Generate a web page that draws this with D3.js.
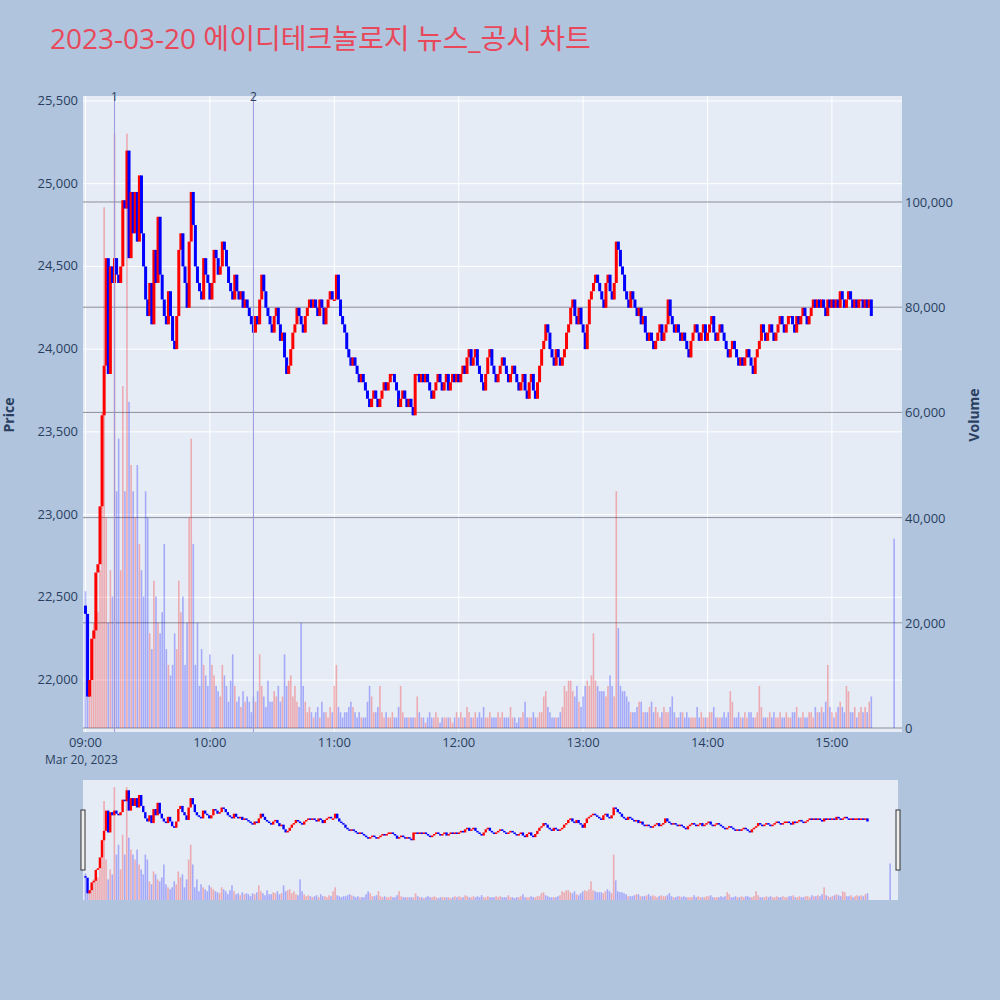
<!DOCTYPE html>
<html>
<head>
<meta charset="utf-8">
<script src="https://cdn.jsdelivr.net/npm/d3@7"></script>
<style>
  body { margin: 0; background: #b0c4de; }
  text { font-family: "Open Sans", "Noto Sans CJK KR", sans-serif; }
</style>
</head>
<body>
<div id="chart"></div>
<script>
// minute closes from 09:00
const closes = [
  22400,21900,22000,22250,22300,22650,22700,23050,23600,23900,
  24550,23850,24500,24400,24550,24450,24400,24500,24900,24850,
  25200,24550,24950,24700,24950,24650,25050,24700,24500,24300,
  24200,24400,24150,24600,24400,24800,24450,24300,24200,24150,
  24350,24200,24050,24000,24200,24600,24700,24500,24400,24250,
  24650,24950,24750,24500,24400,24350,24300,24550,24450,24400,
  24300,24400,24600,24550,24450,24500,24650,24600,24500,24400,
  24350,24300,24450,24350,24300,24350,24250,24300,24250,24200,
  24150,24100,24200,24150,24300,24450,24350,24250,24200,24150,
  24100,24200,24250,24150,24050,24100,23950,23850,23900,24000,
  24100,24150,24250,24200,24150,24100,24200,24250,24300,24250,
  24300,24250,24200,24300,24250,24150,24250,24300,24350,24300,
  24300,24450,24300,24200,24150,24100,24000,23950,23900,23950,
  23900,23850,23800,23850,23800,23750,23700,23650,23700,23750,
  23700,23650,23700,23750,23800,23750,23800,23850,23850,23800,
  23750,23650,23700,23750,23700,23650,23700,23650,23600,23850,
  23850,23800,23850,23800,23850,23800,23750,23700,23750,23800,
  23850,23800,23750,23800,23850,23750,23800,23850,23800,23850,
  23800,23850,23900,23850,23950,24000,23900,23950,24000,23900,
  23850,23800,23750,23850,23950,24000,23900,23850,23800,23850,
  23900,23950,23900,23850,23800,23850,23900,23850,23800,23750,
  23800,23850,23750,23700,23800,23850,23750,23700,23800,23900,
  24000,24050,24150,24100,24000,23950,23900,24000,23950,23900,
  23950,24000,24100,24150,24250,24300,24200,24150,24250,24150,
  24100,24000,24150,24300,24350,24400,24450,24400,24350,24300,
  24250,24400,24450,24350,24300,24400,24650,24600,24500,24450,
  24350,24300,24250,24350,24300,24250,24200,24250,24150,24200,
  24100,24050,24100,24050,24000,24050,24100,24150,24050,24100,
  24150,24300,24200,24150,24100,24150,24100,24050,24100,24050,
  24000,23950,24050,24100,24150,24100,24050,24100,24150,24050,
  24100,24150,24200,24100,24050,24100,24150,24100,24050,24000,
  23950,24000,24050,24000,23950,23900,23950,23900,23950,24000,
  23950,23900,23850,23950,24000,24050,24150,24100,24050,24100,
  24150,24100,24050,24100,24150,24200,24150,24100,24150,24200,
  24200,24150,24100,24200,24150,24200,24250,24200,24150,24200,
  24250,24300,24250,24300,24250,24300,24250,24200,24300,24250,
  24300,24250,24300,24250,24350,24300,24250,24300,24350,24300,
  24250,24300,24250,24300,24300,24250,24300,24250,24300,24200
];
const firstOpen = 22450;
// volume per minute, thousands
const volumes = [
  26,6,9,14,20,25,22,30,60,99, 40,20,30,25,113,45,55,30,65,45,
  113,62,50,45,40,50,35,30,25,45, 40,18,15,28,25,20,18,22,35,15,
  12,10,12,18,15,28,22,25,12,20, 40,55,35,12,20,8,15,12,10,8,
  14,12,10,8,7,6,12,10,8,5, 9,14,8,5,6,4,7,5,6,5,
  3,6,5,7,14,8,6,4,9,5, 5,7,6,8,5,6,14,8,9,10,
  6,8,5,4,20,8,5,3,4,3, 2,3,4,2,5,3,3,2,4,3,
  8,12,4,3,2,3,3,4,5,4, 3,2,3,2,2,2,5,8,6,3,
  3,4,8,3,2,3,2,2,3,2, 2,4,8,3,2,2,2,2,2,2,
  6,3,2,2,1,2,3,2,2,3, 2,1,2,2,2,2,2,1,2,3,
  2,3,2,2,4,3,2,2,3,2, 3,2,4,2,2,3,2,2,2,3,
  2,3,2,2,2,4,2,2,1,2, 2,3,5,2,2,2,3,2,2,3,
  3,6,7,4,3,2,2,2,2,3, 4,8,7,9,9,7,6,8,5,4,
  6,8,9,8,10,18,9,8,7,7, 7,6,8,10,8,6,45,19,8,7,
  7,6,5,3,3,3,4,5,5,3, 3,3,4,5,3,4,3,2,3,4,
  3,3,4,6,3,2,2,3,3,2, 3,2,2,2,2,4,2,3,2,2,
  2,3,3,4,2,2,2,2,3,2, 3,7,5,2,2,3,2,2,3,2,
  3,3,2,2,3,8,4,2,2,2, 3,2,3,2,2,3,2,2,3,2,
  2,3,3,4,2,2,3,2,2,3, 3,2,4,3,3,4,3,5,12,4,
  3,2,3,4,5,4,3,8,7,3, 3,4,2,3,4,3,4,3,5,6
];
const closingVolume = 36; // 15:30 auction
const priceTicks = [22000,22500,23000,23500,24000,24500,25000,25500];
const volumeTicks = [0,20000,40000,60000,80000,100000];
const hourLabels = ["09:00","10:00","11:00","12:00","13:00","14:00","15:00"];
const newsMarks = [{label:"1", minute:14}, {label:"2", minute:81}];

const W = 1000, H = 1000;
const plot = {left:83, right:902, top:96, bottom:732};
const slider = {top:780, bottom:900};
const base = new Date(2023, 2, 20, 9, 0);
const t = m => new Date(base.getTime() + m*60000);

const bars = closes.map((c,i) => {
  const o = i === 0 ? firstOpen : closes[i-1];
  return {time:t(i), open:o, close:c, vol:volumes[i]*1000, up:c >= o};
});
const volBars = bars.map(d => ({time:d.time, vol:d.vol, up:d.up}));
volBars.push({time:t(390), vol:closingVolume*1000, up:false});

const svg = d3.select("#chart").append("svg").attr("width", W).attr("height", H);
svg.append("rect").attr("width", W).attr("height", H).attr("fill", "#b0c4de");

svg.append("text").attr("x", 50).attr("y", 49).attr("fill", "#e8495a")
  .attr("font-size", 28).text("2023-03-20 에이디테크놀로지 뉴스_공시 차트");

const x = d3.scaleTime().domain([t(-1.2), t(393.8)]).range([plot.left, plot.right]);
const y = d3.scaleLinear().domain([21686, 25530]).range([plot.bottom, plot.top]);
const yv = d3.scaleLinear().domain([0, 120150]).range([728, plot.top]);
const bw = 1.6;

svg.append("rect").attr("x", plot.left).attr("y", plot.top)
  .attr("width", plot.right-plot.left).attr("height", plot.bottom-plot.top).attr("fill", "#e5ecf6");

// grids
const hourTimes = hourLabels.map((h,i) => t(i*60));
svg.append("g").selectAll("line").data(hourTimes).join("line")
  .attr("x1", d => x(d)).attr("x2", d => x(d)).attr("y1", plot.top).attr("y2", plot.bottom)
  .attr("stroke", "#fff");
svg.append("g").selectAll("line").data(priceTicks).join("line")
  .attr("x1", plot.left).attr("x2", plot.right).attr("y1", d => y(d)).attr("y2", d => y(d))
  .attr("stroke", "#fff");
svg.append("g").selectAll("line").data(volumeTicks).join("line")
  .attr("x1", plot.left).attr("x2", plot.right).attr("y1", d => yv(d)).attr("y2", d => yv(d))
  .attr("stroke", "#8a8f9a").attr("stroke-width", 1);

function drawVolumes(g, xs, ys, y0) {
  g.selectAll("rect").data(volBars).join("rect")
    .attr("x", d => xs(d.time) - bw/2).attr("width", bw)
    .attr("y", d => ys(d.vol)).attr("height", d => y0 - ys(d.vol))
    .attr("fill", d => d.up ? "rgba(255,0,0,0.28)" : "rgba(0,0,255,0.28)");
}
function drawCandles(g, xs, ys, w) {
  g.selectAll("rect").data(bars).join("rect")
    .attr("x", d => xs(d.time) - w/2).attr("width", w)
    .attr("y", d => ys(Math.max(d.open, d.close)))
    .attr("height", d => Math.max(1.5, Math.abs(ys(d.open) - ys(d.close))))
    .attr("fill", d => d.up ? "#ff0000" : "#0000ff");
}
drawVolumes(svg.append("g"), x, yv, 728);
drawCandles(svg.append("g"), x, y, 3);

// news markers
newsMarks.forEach(n => {
  svg.append("line").attr("x1", x(t(n.minute))).attr("x2", x(t(n.minute)))
    .attr("y1", plot.top).attr("y2", plot.bottom).attr("stroke", "#9999dd").attr("stroke-width", 1);
  svg.append("text").attr("x", x(t(n.minute))).attr("y", 101).attr("text-anchor", "middle")
    .attr("font-size", 12).attr("fill", "#2a3f5f").text(n.label);
});

// axes text
const fmt = d3.format(",");
svg.append("g").selectAll("text").data(priceTicks).join("text")
  .attr("x", 78).attr("y", d => y(d) + 4).attr("text-anchor", "end")
  .attr("font-size", 13).attr("fill", "#2a3f5f").text(d => fmt(d));
svg.append("g").selectAll("text").data(volumeTicks).join("text")
  .attr("x", 905).attr("y", d => yv(d) + 5)
  .attr("font-size", 13).attr("fill", "#2a3f5f").text(d => fmt(d));
svg.append("g").selectAll("text").data(hourTimes).join("text")
  .attr("x", d => x(d)).attr("y", 747).attr("text-anchor", "middle")
  .attr("font-size", 13).attr("fill", "#2a3f5f").text((d,i) => hourLabels[i]);
svg.append("text").attr("x", 45).attr("y", 764).attr("font-size", 12).attr("fill", "#2a3f5f").text("Mar 20, 2023");
svg.append("text").attr("transform", "translate(14,415) rotate(-90)").attr("text-anchor", "middle")
  .attr("font-size", 14).attr("font-weight", "bold").attr("fill", "#2a3f5f").text("Price");
svg.append("text").attr("transform", "translate(979,415) rotate(-90)").attr("text-anchor", "middle")
  .attr("font-size", 14).attr("font-weight", "bold").attr("fill", "#2a3f5f").text("Volume");

// range slider
const xs = d3.scaleTime().domain(x.domain()).range([83, 898]);
const ysP = d3.scaleLinear().domain(y.domain()).range([slider.bottom, slider.top]);
const ysV = d3.scaleLinear().domain(yv.domain()).range([slider.bottom - 0.8, slider.top]);
svg.append("rect").attr("x", 83).attr("y", slider.top).attr("width", 815)
  .attr("height", slider.bottom - slider.top).attr("fill", "#e5ecf6");
drawVolumes(svg.append("g"), xs, ysV, slider.bottom);
drawCandles(svg.append("g"), xs, ysP, 2.4);
[81, 896].forEach(hx => {
  svg.append("rect").attr("x", hx).attr("y", 810).attr("width", 4).attr("height", 60)
    .attr("fill", "#eee").attr("stroke", "#333").attr("stroke-width", 1);
});
</script>
</body>
</html>
